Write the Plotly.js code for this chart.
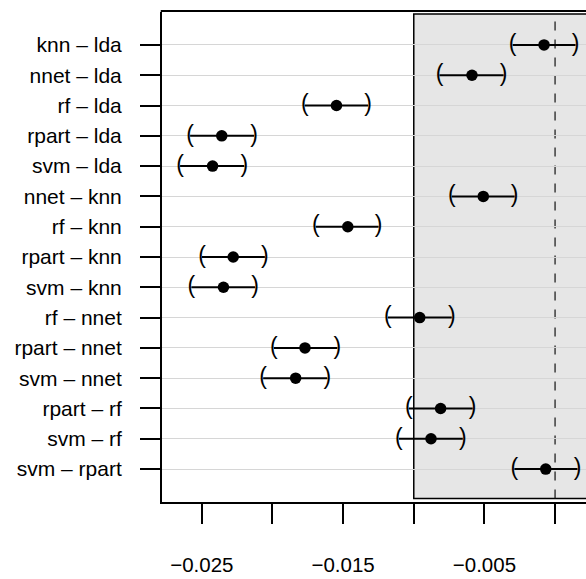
<!DOCTYPE html>
<html>
<head>
<meta charset="utf-8">
<script src="https://cdn.plot.ly/plotly-3.0.1.min.js"></script>
<style>html,body{margin:0;padding:0;background:#fff}</style>
</head>
<body>
<div id="chart" style="width:586px;height:579px"></div>
<script>
// Pairwise model differences (accuracy) with confidence intervals
const comparisons = [
  "knn – lda", "nnet – lda", "rf – lda", "rpart – lda", "svm – lda",
  "nnet – knn", "rf – knn", "rpart – knn", "svm – knn",
  "rf – nnet", "rpart – nnet", "svm – nnet",
  "rpart – rf", "svm – rf", "svm – rpart"
];
const estimate = [
  -0.00078, -0.00588, -0.01547, -0.02359, -0.02424,
  -0.00508, -0.01467, -0.02278, -0.02347,
  -0.00958, -0.01770, -0.01836,
  -0.00810, -0.00878, -0.00066
];
const lower = [
  -0.00300, -0.00818, -0.01771, -0.02583, -0.02654,
  -0.00731, -0.01693, -0.02499, -0.02574,
  -0.01183, -0.01990, -0.02066,
  -0.01035, -0.01105, -0.00288
];
const upper = [
  0.00145, -0.00364, -0.01324, -0.02131, -0.02200,
  -0.00286, -0.01249, -0.02054, -0.02124,
  -0.00731, -0.01541, -0.01612,
  -0.00583, -0.00653, 0.00159
];
const xTickVals = [-0.025, -0.02, -0.015, -0.01, -0.005, 0];
const xTickText = ["−0.025", "", "−0.015", "", "−0.005", ""];
const equivBounds = [-0.01, 0.01];
const zeroLine = 0;

const rows = comparisons.map((_, i) => i + 1);
const FONT = "Liberation Sans, Arial, Helvetica, sans-serif";

const intervals = {
  type: "scatter",
  mode: "markers",
  x: estimate,
  y: rows,
  marker: {color: "#000", size: 11.5},
  error_x: {
    type: "data",
    symmetric: false,
    array: upper.map((u, i) => u - estimate[i]),
    arrayminus: lower.map((l, i) => estimate[i] - l),
    color: "#000",
    thickness: 2,
    width: 0
  },
  hoverinfo: "skip",
  showlegend: false
};

const endText = (xs, glyph) => ({
  type: "scatter",
  mode: "text",
  x: xs,
  y: rows,
  text: rows.map(() => glyph),
  textposition: "middle center",
  textfont: {family: FONT, size: 23, color: "#000"},
  hoverinfo: "skip",
  showlegend: false
});

const layout = {
  width: 586,
  height: 579,
  margin: {l: 162, r: 0, t: 12, b: 77},
  paper_bgcolor: "#fff",
  plot_bgcolor: "#fff",
  font: {family: FONT, color: "#000", size: 20},
  showlegend: false,
  xaxis: {
    range: [-0.02782, 0.00219],
    tickvals: xTickVals,
    ticktext: xTickText,
    ticks: "outside",
    ticklen: 20,
    tickwidth: 2,
    tickcolor: "#000",
    ticklabelstandoff: 23,
    tickfont: {family: FONT, size: 20.5, color: "#000"},
    showgrid: false,
    zeroline: false,
    showline: true,
    linewidth: 2,
    linecolor: "#000",
    fixedrange: true
  },
  yaxis: {
    range: [16.087, -0.087],
    tickvals: rows,
    ticktext: comparisons,
    ticks: "outside",
    ticklen: 20,
    tickwidth: 2,
    tickcolor: "#000",
    ticklabelstandoff: 14,
    tickfont: {family: FONT, size: 21, color: "#000"},
    showgrid: true,
    gridcolor: "#d6d6d6",
    gridwidth: 1,
    zeroline: false,
    showline: true,
    linewidth: 2,
    linecolor: "#000",
    fixedrange: true
  },
  shapes: [
    {
      type: "rect", layer: "below",
      xref: "x", x0: equivBounds[0], x1: equivBounds[1],
      yref: "paper", y0: 0.007, y1: 0.996,
      fillcolor: "#e6e6e6",
      line: {color: "#000", width: 1.5}
    },
    {
      type: "line", layer: "between",
      xref: "x", x0: zeroLine, x1: zeroLine,
      yref: "paper", y0: 0.007, y1: 0.996,
      line: {color: "#111", width: 1.2, dash: "9px,9px"}
    },
    {
      type: "line", layer: "above",
      xref: "paper", x0: -0.003, x1: 1.01,
      yref: "paper", y0: 1.002, y1: 1.002,
      line: {color: "#000", width: 2}
    }
  ]
};

Plotly.newPlot("chart", [intervals, endText(lower, "("), endText(upper, ")")], layout,
  {displayModeBar: false, staticPlot: true});
</script>
</body>
</html>
